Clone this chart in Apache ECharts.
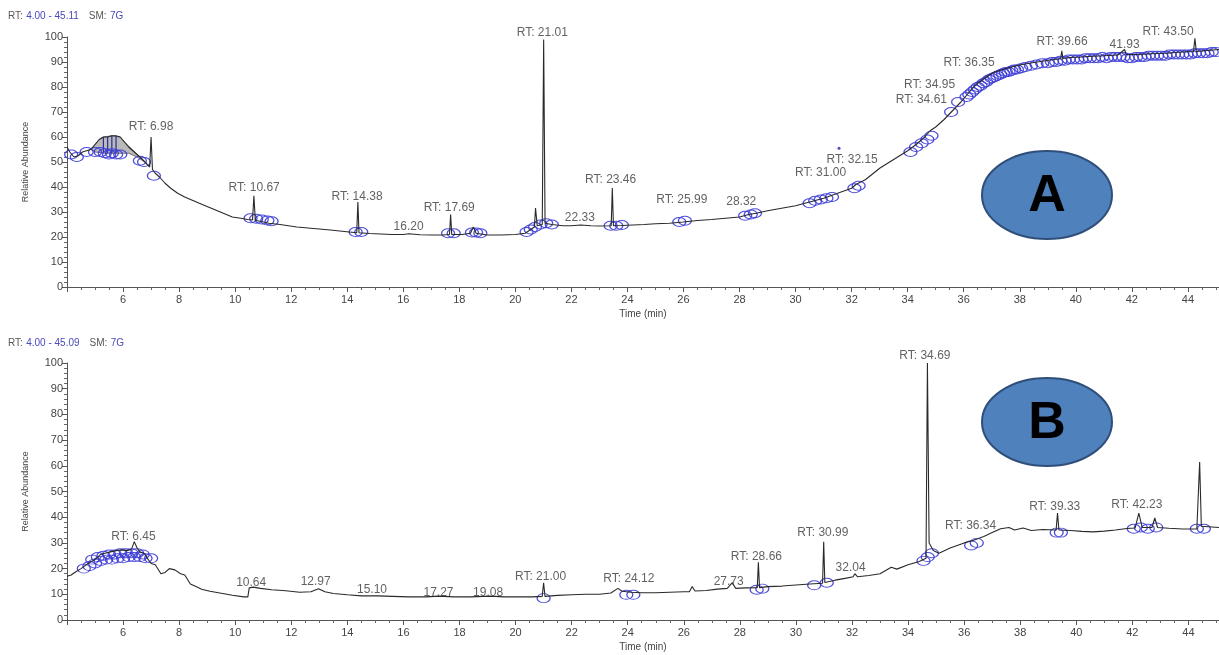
<!DOCTYPE html>
<html><head><meta charset="utf-8">
<script src="https://cdn.jsdelivr.net/npm/echarts@6/dist/echarts.min.js"></script>
<style>html,body{margin:0;padding:0;background:#fff}#c{width:1219px;height:655px}</style>
</head><body><div id="c"></div>
<script>
// ---------- Panel A chromatogram ----------
const timeA = [4.00,4.10,4.25,4.40,4.55,4.70,4.85,5.00,5.15,5.30,5.45,5.60,5.75,5.90,6.05,6.20,6.35,6.50,6.65,6.80,6.95,7.00,7.05,7.15,7.30,7.50,7.70,7.95,8.20,8.45,8.70,9.00,9.30,9.60,9.90,10.20,10.45,10.62,10.67,10.72,10.90,11.20,11.60,12.20,12.80,13.40,13.90,14.34,14.38,14.42,14.80,15.20,15.60,16.00,16.20,16.60,17.00,17.40,17.65,17.69,17.73,18.10,18.40,18.50,18.60,19.00,19.50,20.00,20.35,20.55,20.68,20.72,20.78,20.96,21.01,21.06,21.30,21.70,22.00,22.33,22.70,23.00,23.42,23.46,23.50,23.80,24.20,24.60,25.00,25.50,25.99,26.50,27.00,27.50,28.00,28.32,28.60,29.00,29.50,30.00,30.50,31.00,31.50,32.00,32.15,32.50,33.00,33.50,34.00,34.30,34.61,34.80,35.00,35.30,35.60,35.90,36.20,36.35,36.50,36.80,37.10,37.40,37.70,38.00,38.40,38.80,39.20,39.46,39.50,39.54,39.80,40.20,40.60,41.00,41.50,41.74,41.80,42.20,42.70,43.20,43.80,44.20,44.25,44.30,44.70,45.11];
const valA  = [56,54,52,52.5,54,54.5,55,57,59,60,60,60.5,60.5,60,58,56,54.5,53,51.5,49.8,48,60,47,45.5,44,41.5,39.5,37.5,36,34.8,33.6,32.2,30.8,29.4,28,27.5,27,26.8,36.5,26.6,26.3,25.5,25,24,23.4,22.8,22.2,21.7,34,21.7,21.4,21.2,21,21,21.3,20.9,20.8,20.8,21,29,21,21,21.5,24,21.5,20.8,20.8,21,21.5,23,24,31.6,24.5,25,99,25.5,25,24.5,24.5,24.8,24.5,24.4,24.5,39.6,24.5,24.6,24.8,25,25.3,25.5,26,26.6,27,27.5,28,29,29.5,30.5,31.5,32.5,34,35.5,37.5,39.5,41,43,47.5,51,54.5,57,60,62.5,64,67,70.5,74,78,80,81.5,84,86,87,88,88.8,89.6,90.3,91,91.3,94.5,91.4,91.8,92,92.3,92.5,92.8,95,93,93,93.3,93.5,94,94.2,99.5,94.2,94.6,95];
// gray filled peak area (outline, clockwise) and its drop lines
const grayT = [4.85,5.00,5.15,5.30,5.60,5.90,6.05,6.80,6.50,6.20,5.80,5.40,5.00];
const grayV = [55,57,59,60,60.5,60,58,49.8,52,53.5,53.5,53.5,54];
const dropT = [5.30,5.45,5.60,5.75];
const dropTop = [60,60,60.5,60.5];
const dropBottom = [53.5,53.5,53.5,53.5];
// peak marker circles A
const circTA = [4.15,4.35,4.70,5.00,5.20,5.35,5.50,5.60,5.75,5.90,6.60,6.75,7.10,10.55,10.75,10.95,11.15,11.30,14.30,14.50,17.60,17.80,18.45,18.60,18.75,20.40,20.55,20.70,20.90,21.10,21.30,23.40,23.60,23.80,25.85,26.05,28.20,28.40,28.55,30.50,30.70,30.90,31.10,31.30,32.10,32.25,34.10,34.30,34.50,34.70,34.85,35.55,35.80,36.10,36.20,36.30,36.40,36.50,36.60,36.70,36.80,36.90,37.00,37.10,37.20,37.30,37.40,37.50,37.60,37.70,37.80,37.90,38.05,38.20,38.40,38.60,38.80,39.00,39.15,39.30,39.45,39.60,39.75,39.90,40.05,40.20,40.35,40.50,40.65,40.80,40.95,41.10,41.25,41.40,41.55,41.70,41.85,42.00,42.15,42.30,42.45,42.60,42.75,42.90,43.05,43.20,43.35,43.50,43.65,43.80,43.95,44.10,44.25,44.40,44.55,44.70,44.85,45.00];
const circVA = [53,52,54,54,54,53.5,53,53.5,53,53,50.5,50,44.5,27.5,27.3,27,26.6,26.3,22,22,21.5,21.5,21.8,21.8,21.5,22,23,24,25,25.5,25,24.5,24.5,24.8,26,26.5,28.5,29,29.5,33.5,34.5,35,35.5,36,39.5,40.5,54,56,57.5,59,60.5,70,74,76,77,78,79,80,80.5,81.5,82,83,83.5,84,84.5,85,85.5,86,86,86.5,87,87,87.5,88,88.5,89,89.5,89.5,90,90,90.5,90.5,91,91,91,91,91.5,91.5,91.5,91.5,92,91.5,92,92,92,92,91.5,91.5,92,92,92,92.5,92.5,92.5,92.5,92.5,93,93,93,93,93,93,93.5,93.5,93.5,93.5,94,94];
const strayDotA = [31.55, 55.5];
// peak annotations A (text, label centre time, label centre value)
const labTextA = ['RT: 6.98','RT: 10.67','RT: 14.38','16.20','RT: 17.69','RT: 21.01','22.33','RT: 23.46','RT: 25.99','28.32','RT: 31.00','RT: 32.15','RT: 34.61','RT: 34.95','RT: 36.35','RT: 39.66','41.93','RT: 43.50'];
const labTA = [7.00,10.68,14.35,16.19,17.64,20.96,22.30,23.40,25.94,28.06,30.89,32.02,34.49,34.78,36.19,39.51,41.74,43.29];
const labVA = [64,39.6,36,24,31.6,101.6,27.6,42.8,34.8,34,45.6,50.8,74.8,80.8,89.6,98,96.8,102];

// ---------- Panel B chromatogram ----------
const timeB = [4.00,4.15,4.30,4.50,4.75,5.00,5.20,5.35,5.55,5.75,5.95,6.15,6.30,6.40,6.50,6.60,6.75,6.90,7.00,7.15,7.35,7.50,7.65,7.85,8.05,8.20,8.40,8.60,8.80,9.10,9.50,9.90,10.30,10.45,10.50,10.64,10.90,11.30,11.80,12.30,12.70,12.97,13.20,13.50,14.00,14.50,15.10,15.60,16.20,16.80,17.27,17.80,18.40,19.08,19.60,20.20,20.60,20.95,21.00,21.05,21.50,22.00,22.50,23.00,23.40,23.65,23.80,24.12,24.50,25.00,25.50,26.00,26.20,26.30,26.40,26.80,27.20,27.55,27.73,27.85,28.20,28.62,28.66,28.70,29.00,29.50,30.00,30.50,30.95,30.99,31.03,31.40,31.80,32.04,32.10,32.20,32.60,33.00,33.40,33.60,34.00,34.40,34.64,34.69,34.75,34.90,35.10,35.50,36.00,36.34,36.70,37.00,37.30,37.60,37.80,38.10,38.40,38.80,39.28,39.33,39.38,39.80,40.20,40.60,41.00,41.40,41.80,42.10,42.23,42.35,42.70,42.80,42.90,43.30,43.80,44.30,44.35,44.40,44.46,45.09];
const valB  = [17,17.5,18.7,20,22,23.5,25.5,26,26.5,27,27.3,27,27.5,30.5,28,26.5,26,23.5,22,21.5,18,18.5,20,19.5,18,17.5,14,13,12,11.2,10.4,9.6,9,9,12.5,12.8,12.3,11.8,11.4,10.8,11,12.2,11,10.3,9.8,9.4,9.4,9.2,9,9,9.3,9,9,9.3,9,9,9,9.2,14.5,9.2,9.6,9.8,10,10,10.5,12.3,11.2,10.8,10.6,10.6,10.8,11,11,13,11.3,11.5,12,12.3,14.5,12.3,12.5,12.6,22.5,12.6,13,13.2,13.6,14,14.3,30.4,14.6,15.5,16.3,16.8,18,16.8,17.3,18,20.5,19.8,21.5,22.8,24,100,30,27,26,28,30,31,32.5,34,35.5,36,35,35.8,34.8,35.2,35,41.6,35,34.8,34.5,34.3,34.6,35,35.6,35.8,41.6,36,36,39.7,36,35.7,35.4,35.4,35.8,61.5,36.5,36];
const circTB = [4.60,4.80,5.00,5.20,5.40,5.60,5.80,6.00,6.20,6.40,6.60,6.80,7.00,4.90,5.10,5.30,5.50,5.70,5.90,6.10,6.30,6.50,6.70,21.00,23.95,24.20,28.60,28.80,30.65,31.10,34.55,34.70,34.85,36.25,36.45,39.30,39.45,42.05,42.30,42.55,42.85,44.30,44.55];
const circVB = [20,21,22,23,23.5,23.5,24,24,24.5,24.5,24.5,24,24,23.5,24.5,25,25.5,25.5,26,26,26,26,25.5,8.5,9.8,9.8,11.8,12.2,13.5,14.5,23,24.5,26,29,30,34,34,35.5,36,35.5,36,35.5,35.5];
const labTextB = ['RT: 6.45','10.64','12.97','15.10','17.27','19.08','RT: 21.00','RT: 24.12','27.73','RT: 28.66','RT: 30.99','32.04','RT: 34.69','RT: 36.34','RT: 39.33','RT: 42.23'];
const labTB = [6.37,10.57,12.87,14.88,17.25,19.02,20.89,24.04,27.60,28.59,30.96,31.95,34.60,36.23,39.23,42.16];
const labVB = [32.3,14.4,14.8,11.7,10.5,10.5,16.7,16,14.8,24.5,33.9,20.2,103,36.6,44,44.7];

// axis ranges
const xMinA = 4.00, xMaxA = 45.11, xMinB = 4.00, xMaxB = 45.09;
const xTickStep = 2, yMin = 0, yMax = 100, yTickStep = 10;

// ---------- build ----------
const FONT = 'Liberation Sans, Arial, sans-serif';
const PXPERMIN = 28.3;
const zip = (a, b) => a.map((t, i) => [t, b[i]]);
const BLUE = '#3c3cd6';

function xAxisCfg(idx, mn, mx) {
  return {
    type: 'value', gridIndex: idx, min: mn, max: mx, interval: xTickStep,
    name: 'Time (min)', nameLocation: 'middle', nameGap: 22,
    nameTextStyle: { fontFamily: FONT, fontSize: 10, color: '#444' },
    axisLine: { lineStyle: { color: '#555', width: 1 } },
    axisTick: { length: 5, lineStyle: { color: '#555' } },
    minorTick: { show: true, splitNumber: 4, length: 3, lineStyle: { color: '#666' } },
    splitLine: { show: false },
    axisLabel: { fontFamily: FONT, fontSize: 11, color: '#444', margin: 7, showMinLabel: false, showMaxLabel: false,
      formatter: v => (v === mn ? '' : String(v)) }
  };
}
function yAxisCfg(idx) {
  return {
    type: 'value', gridIndex: idx, min: yMin, max: yMax, interval: yTickStep,
    name: 'Relative Abundance', nameLocation: 'middle', nameGap: 37, nameRotate: 90,
    nameTextStyle: { fontFamily: FONT, fontSize: 9, color: '#444' },
    axisLine: { show: true, lineStyle: { color: '#555', width: 1 } },
    axisTick: { show: true, length: 5, lineStyle: { color: '#555' } },
    minorTick: { show: true, splitNumber: 5, length: 3, lineStyle: { color: '#666' } },
    splitLine: { show: false },
    axisLabel: { fontFamily: FONT, fontSize: 11, color: '#444', margin: 4 }
  };
}
function labelSeries(xi, texts, ts, vs) {
  return {
    type: 'scatter', xAxisIndex: xi, yAxisIndex: xi, symbolSize: 0, clip: false, z: 5, silent: true,
    data: ts.map((t, i) => ({ value: [t, vs[i]], name: texts[i] })),
    label: { show: true, position: 'inside', formatter: p => p.name, fontFamily: FONT, fontSize: 12, color: '#3a3a3a' }
  };
}
function circleSeries(xi, ts, vs) {
  return {
    type: 'scatter', xAxisIndex: xi, yAxisIndex: xi, symbol: 'circle', symbolSize: [13, 9], z: 3, silent: true,
    itemStyle: { color: 'rgba(255,255,255,0)', borderColor: BLUE, borderWidth: 1.1, opacity: 0.9 },
    data: zip(ts, vs)
  };
}
function lineSeries(xi, ts, vs) {
  return {
    type: 'line', xAxisIndex: xi, yAxisIndex: xi, showSymbol: false, sampling: 'none', z: 4, silent: true,
    lineStyle: { color: '#2a2a2a', width: 1.1 }, data: zip(ts, vs)
  };
}

const chart = echarts.init(document.getElementById('c'), null, { renderer: 'canvas' });
chart.setOption({
  backgroundColor: '#fff',
  animation: false,
  grid: [
    { left: 67, top: 37, height: 250, width: (xMaxA - xMinA) * PXPERMIN },
    { left: 67, top: 363, height: 257, width: (xMaxB - xMinB) * PXPERMIN }
  ],
  xAxis: [xAxisCfg(0, xMinA, xMaxA), xAxisCfg(1, xMinB, xMaxB)],
  yAxis: [yAxisCfg(0), yAxisCfg(1)],
  series: [
    {
      type: 'custom', xAxisIndex: 0, yAxisIndex: 0, z: 2, silent: true, data: [[grayT[0], grayV[0]]],
      renderItem: (params, api) => {
        const pts = grayT.map((t, i) => api.coord([t, grayV[i]]));
        const children = [{ type: 'polygon', shape: { points: pts }, style: { fill: '#b9b9b9', stroke: '#555', lineWidth: 0.8 } }];
        dropT.forEach((t, i) => {
          const a = api.coord([t, dropTop[i]]), b = api.coord([t, dropBottom[i]]);
          children.push({ type: 'line', shape: { x1: a[0], y1: a[1], x2: b[0], y2: b[1] }, style: { stroke: '#2b2b9a', lineWidth: 1.2 } });
        });
        return { type: 'group', children };
      }
    },
    circleSeries(0, circTA, circVA),
    lineSeries(0, timeA, valA),
    { type: 'scatter', xAxisIndex: 0, yAxisIndex: 0, symbolSize: 3, itemStyle: { color: '#2020b0' }, data: [strayDotA], silent: true },
    labelSeries(0, labTextA, labTA, labVA),
    circleSeries(1, circTB, circVB),
    lineSeries(1, timeB, valB),
    labelSeries(1, labTextB, labTB, labVB)
  ],
  graphic: [
    { type: 'text', left: 8, top: 10, style: { text: '{g|RT:} {b|4.00 - 45.11}   {g|SM:} {b|7G}',
      rich: { g: { fontFamily: FONT, fontSize: 10, fill: '#555' }, b: { fontFamily: FONT, fontSize: 10, fill: '#4a4ab8' } } } },
    { type: 'text', left: 8, top: 337, style: { text: '{g|RT:} {b|4.00 - 45.09}   {g|SM:} {b|7G}',
      rich: { g: { fontFamily: FONT, fontSize: 10, fill: '#555' }, b: { fontFamily: FONT, fontSize: 10, fill: '#4a4ab8' } } } },
    { type: 'ellipse', shape: { cx: 1047, cy: 195, rx: 65, ry: 44 }, style: { fill: '#4f81bd', stroke: '#2f4f7a', lineWidth: 2 }, z: 10 },
    { type: 'text', x: 1047, y: 197, style: { text: 'A', fontFamily: FONT, fontWeight: 'bold', fontSize: 52, fill: '#000', align: 'center', verticalAlign: 'middle' }, z: 11 },
    { type: 'ellipse', shape: { cx: 1047, cy: 422, rx: 65, ry: 44 }, style: { fill: '#4f81bd', stroke: '#2f4f7a', lineWidth: 2 }, z: 10 },
    { type: 'text', x: 1047, y: 424, style: { text: 'B', fontFamily: FONT, fontWeight: 'bold', fontSize: 52, fill: '#000', align: 'center', verticalAlign: 'middle' }, z: 11 }
  ]
});
</script></body></html>
